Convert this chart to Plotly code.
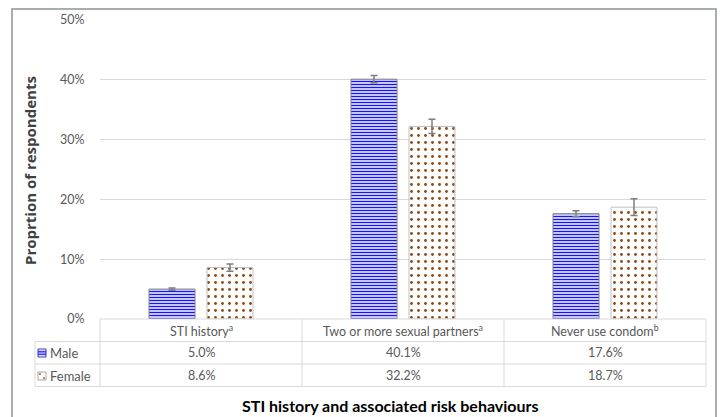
import plotly.graph_objects as go

categories = ["STI history", "Two or more sexual partners", "Never use condom"]
header_labels = ["STI history<sup>a</sup>", "Two or more sexual partners<sup>a</sup>", "Never use condom<sup>b</sup>"]
male_vals = [5.0, 40.1, 17.6]
female_vals = [8.6, 32.2, 18.7]
male_err = [0.2, 0.6, 0.5]
female_err = [0.6, 1.2, 1.4]
y_ticks = [0, 10, 20, 30, 40, 50]
y_ticklabels = ["0%", "10%", "20%", "30%", "40%", "50%"]

W, H = 720, 417
L, R, T, B = 100, 14, 20, 98
PW = W - L - R
PH = H - T - B


def px(x):
    return (x - L) / PW


def py(y):
    return (H - B - y) / PH


FONT = "Lato"
GRID = "#d9d9d9"
TXT = "#595959"
BROWN = "#8b4a16"

fig = go.Figure()
fig.add_trace(go.Bar(
    x=categories, y=male_vals, name="Male",
    marker=dict(color="white", line=dict(color="#7f7f7f", width=1),
                pattern=dict(shape="-", fgcolor="#1414ff", bgcolor="white",
                             size=3, solidity=0.5, fillmode="replace")),
    error_y=dict(type="data", array=male_err, color="#7f7f7f", thickness=1.5, width=3.5),
))
fig.add_trace(go.Bar(
    x=categories, y=female_vals, name="Female",
    marker=dict(color="white", line=dict(color="#bfbfbf", width=1),
                pattern=dict(shape=".", fgcolor=BROWN, bgcolor="white",
                             size=7, solidity=0.13, fillmode="replace")),
    error_y=dict(type="data", array=female_err, color="#7f7f7f", thickness=1.5, width=3.5),
))

shapes = []
# outer frame
shapes.append(dict(type="rect", xref="paper", yref="paper",
                   x0=px(12), x1=px(716), y0=py(440), y1=py(9),
                   line=dict(color="#8c9296", width=1.5), layer="below"))
# table lines
row_lines = [341.5, 364, 386.5]
for yy in row_lines:
    shapes.append(dict(type="line", xref="paper", yref="paper",
                       x0=px(35), x1=px(706), y0=py(yy), y1=py(yy),
                       line=dict(color=GRID, width=1)))
shapes.append(dict(type="line", xref="paper", yref="paper",
                   x0=px(100), x1=px(706), y0=py(319), y1=py(319),
                   line=dict(color=GRID, width=1)))
for i in range(len(categories) + 1):
    xx = 100 + i * PW / len(categories)
    shapes.append(dict(type="line", xref="paper", yref="paper",
                       x0=px(xx), x1=px(xx), y0=py(319), y1=py(386.5),
                       line=dict(color=GRID, width=1)))
shapes.append(dict(type="line", xref="paper", yref="paper",
                   x0=px(35), x1=px(35), y0=py(341.5), y1=py(386.5),
                   line=dict(color=GRID, width=1)))
# legend icons
shapes.append(dict(type="rect", xref="paper", yref="paper",
                   x0=px(38), x1=px(46), y0=py(357), y1=py(349),
                   line=dict(color="#3c3c9c", width=1), fillcolor="white"))
for yy in [351.3, 353, 354.7]:
    shapes.append(dict(type="line", xref="paper", yref="paper",
                       x0=px(38), x1=px(46), y0=py(yy), y1=py(yy),
                       line=dict(color="#1414ff", width=1)))
shapes.append(dict(type="rect", xref="paper", yref="paper",
                   x0=px(38), x1=px(46), y0=py(380), y1=py(372),
                   line=dict(color="#a6a6a6", width=1), fillcolor="white"))
for (cx, cy) in [(40, 374), (44, 378)]:
    shapes.append(dict(type="rect", xref="paper", yref="paper",
                       x0=px(cx - 0.8), x1=px(cx + 0.8), y0=py(cy + 0.8), y1=py(cy - 0.8),
                       line=dict(width=0), fillcolor=BROWN))

ann = []
for c, hl, m, f in zip(categories, header_labels, male_vals, female_vals):
    ann.append(dict(x=c, xref="x", y=py(330.5), yref="paper", text=hl, showarrow=False,
                    xanchor="center", yanchor="middle",
                    font=dict(family=FONT, size=12.5, color=TXT)))
    ann.append(dict(x=c, xref="x", y=py(352.5), yref="paper", text=f"{m:.1f}%", showarrow=False,
                    xanchor="center", yanchor="middle",
                    font=dict(family=FONT, size=12.5, color=TXT)))
    ann.append(dict(x=c, xref="x", y=py(375.5), yref="paper", text=f"{f:.1f}%", showarrow=False,
                    xanchor="center", yanchor="middle",
                    font=dict(family=FONT, size=12.5, color=TXT)))
ann.append(dict(x=px(48), xref="paper", y=py(352.5), yref="paper", text="Male", showarrow=False,
                xanchor="left", yanchor="middle", font=dict(family=FONT, size=13, color=TXT)))
ann.append(dict(x=px(48), xref="paper", y=py(375.5), yref="paper", text="Female", showarrow=False,
                xanchor="left", yanchor="middle", font=dict(family=FONT, size=13, color=TXT)))
ann.append(dict(x=px(390), xref="paper", y=py(405.5), yref="paper",
                text="<b>STI history and associated risk behaviours</b>", showarrow=False,
                xanchor="center", yanchor="middle",
                font=dict(family=FONT, size=16, color="#000000")))
ann.append(dict(x=px(30), xref="paper", y=py(171), yref="paper", textangle=-90,
                text="<b>Proprtion of respondents</b>", showarrow=False,
                xanchor="center", yanchor="middle",
                font=dict(family="Open Sans", size=15, color="#404040")))

fig.update_layout(
    width=W, height=H,
    margin=dict(l=L, r=R, t=T, b=B),
    paper_bgcolor="white", plot_bgcolor="white",
    barmode="group", bargap=0.426, bargroupgap=0.207,
    showlegend=False,
    shapes=shapes, annotations=ann,
    xaxis=dict(showticklabels=False, showgrid=False, zeroline=False, showline=False,
               range=[-0.5, 2.5]),
    yaxis=dict(range=[0, 50], tickvals=y_ticks, ticktext=y_ticklabels,
               showgrid=True, gridcolor=GRID, gridwidth=1, zeroline=False,
               ticks="outside", ticklen=12, tickcolor="rgba(0,0,0,0)",
               tickfont=dict(family=FONT, size=12.5, color=TXT)),
)

fig.write_html("out.html", config={"displayModeBar": False},
               post_script="document.body.style.margin='0';")
